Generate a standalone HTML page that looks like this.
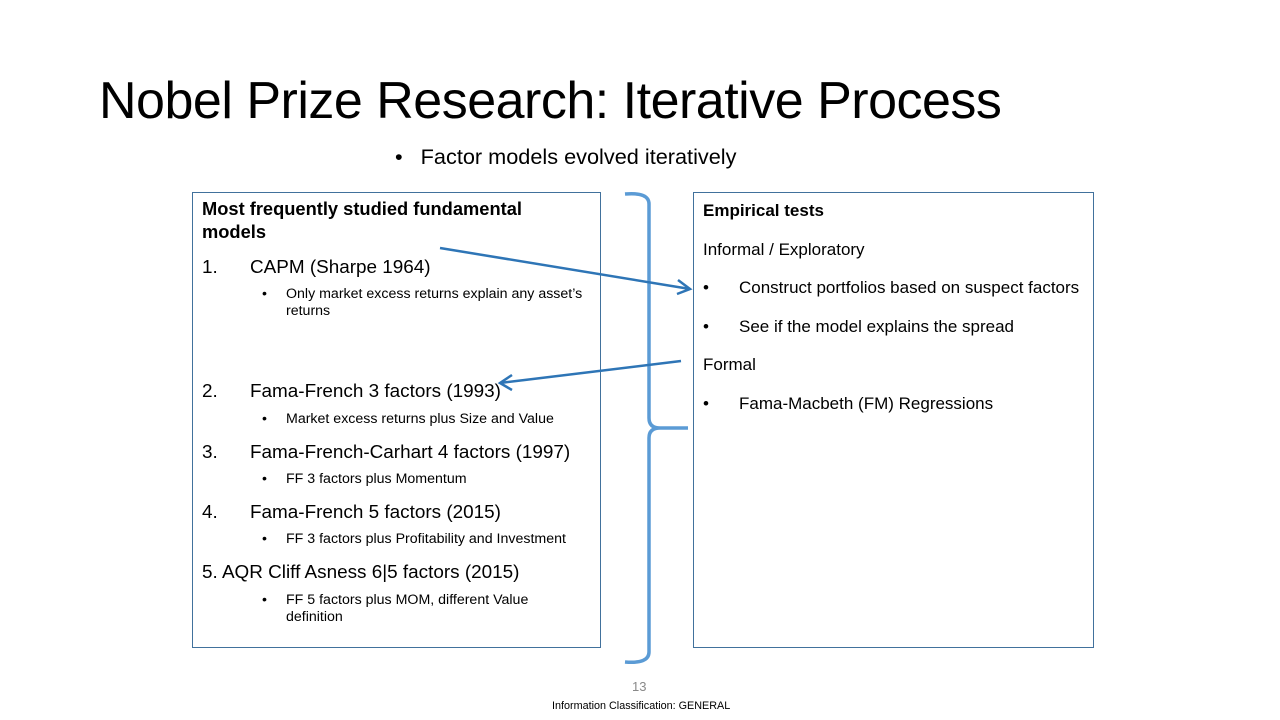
<!DOCTYPE html>
<html><head><meta charset="utf-8"><style>
body{margin:0;width:1280px;height:720px;background:#fff;position:relative;overflow:hidden;font-family:"Liberation Sans",sans-serif;color:#000}
.a{position:absolute;white-space:nowrap}
.t{font-size:17px}
.m{font-size:18.9px}
.s{font-size:14.2px}
.box{position:absolute;border:1px solid #41719c;box-sizing:border-box}
</style></head><body>
<div class="a" style="left:99px;top:71px;font-size:52px;letter-spacing:-0.5px">Nobel Prize Research: Iterative Process</div>
<div class="a" style="left:395px;top:144px;font-size:21.7px">•&nbsp;&nbsp;&nbsp;Factor models evolved iteratively</div>
<div class="box" style="left:192px;top:192px;width:409px;height:456px"></div>
<div class="box" style="left:693px;top:192px;width:401px;height:456px"></div>

<div class="a" style="left:202px;top:197px;font-weight:bold;font-size:18.3px;line-height:23px">Most frequently studied fundamental<br>models</div>
<div class="a m" style="left:202px;top:257px">1.</div><div class="a m" style="left:250px;top:257px">CAPM (Sharpe 1964)</div>
<div class="a s" style="left:262px;top:286px">•</div><div class="a s" style="left:286px;top:286px;line-height:17px">Only market excess returns explain any asset’s<br>returns</div>
<div class="a m" style="left:202px;top:381px">2.</div><div class="a m" style="left:250px;top:381px">Fama-French 3 factors (1993)</div>
<div class="a s" style="left:262px;top:411px">•</div><div class="a s" style="left:286px;top:411px">Market excess returns plus Size and Value</div>
<div class="a m" style="left:202px;top:442px">3.</div><div class="a m" style="left:250px;top:442px">Fama-French-Carhart 4 factors (1997)</div>
<div class="a s" style="left:262px;top:471px">•</div><div class="a s" style="left:286px;top:471px">FF 3 factors plus Momentum</div>
<div class="a m" style="left:202px;top:502px">4.</div><div class="a m" style="left:250px;top:502px">Fama-French 5 factors (2015)</div>
<div class="a s" style="left:262px;top:531px">•</div><div class="a s" style="left:286px;top:531px">FF 3 factors plus Profitability and Investment</div>
<div class="a m" style="left:202px;top:562px">5. AQR Cliff Asness 6|5 factors (2015)</div>
<div class="a s" style="left:262px;top:592px">•</div><div class="a s" style="left:286px;top:592px;line-height:17px">FF 5 factors plus MOM, different Value<br>definition</div>

<div class="a" style="left:703px;top:201px;font-weight:bold;font-size:17px">Empirical tests</div>
<div class="a t" style="left:703px;top:240px">Informal / Exploratory</div>
<div class="a t" style="left:703px;top:278px">•</div><div class="a t" style="left:739px;top:278px">Construct portfolios based on suspect factors</div>
<div class="a t" style="left:703px;top:317px">•</div><div class="a t" style="left:739px;top:317px">See if the model explains the spread</div>
<div class="a t" style="left:703px;top:355px">Formal</div>
<div class="a t" style="left:703px;top:394px">•</div><div class="a t" style="left:739px;top:394px">Fama-Macbeth (FM) Regressions</div>

<svg class="a" style="left:0;top:0" width="1280" height="720">
<path d="M625 194 Q649 192 649 204 L649 418 Q649 428 660 428 L688 428 M660 428 Q649 428 649 438 L649 652 Q649 664 625 662" fill="none" stroke="#5b9bd5" stroke-width="3.5"/>
<g stroke="#2e75b6" stroke-width="2.5" fill="none">
<line x1="440" y1="248" x2="690" y2="289"/><polyline points="678,280 690,289 677,294"/>
<line x1="681" y1="361" x2="500" y2="383"/><polyline points="512,375 500,383 512,390"/>
</g>
</svg>
<div class="a" style="left:632px;top:679px;font-size:13px;color:#898989">13</div>
<div class="a" style="left:552px;top:700px;font-size:10.8px">Information Classification: GENERAL</div>
</body></html>
